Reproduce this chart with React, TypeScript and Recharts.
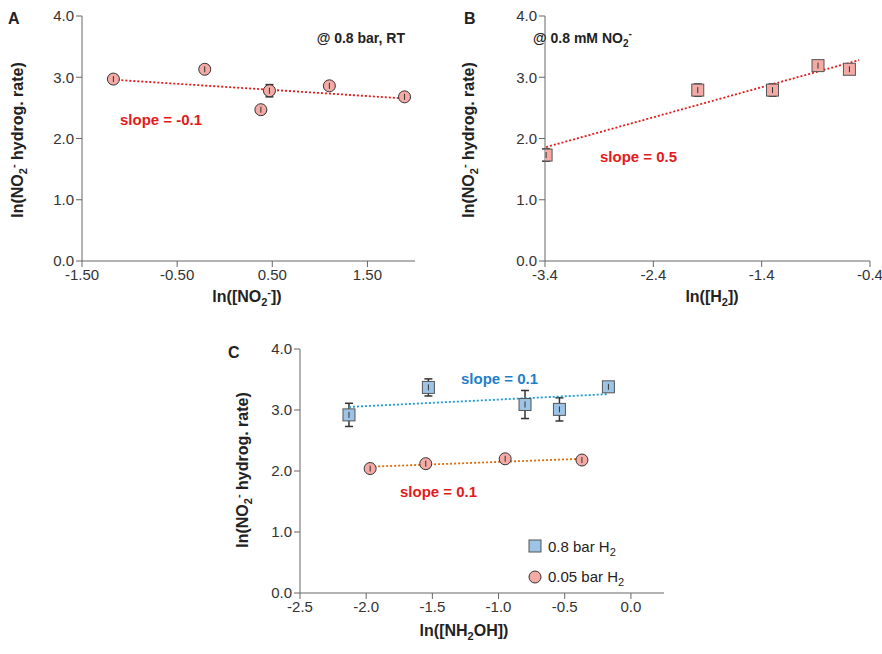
import React from "react"
import { ScatterChart, Scatter, XAxis, YAxis, ErrorBar } from "recharts"

// Panel A: ln([NO2-]) vs rate
const aPoints = [
  { x: -1.17, y: 2.97, err: 0.07 },
  { x: -0.21, y: 3.13, err: 0.05 },
  { x: 0.38, y: 2.47, err: 0.05 },
  { x: 0.47, y: 2.78, err: 0.1 },
  { x: 1.1, y: 2.86, err: 0.05 },
  { x: 1.89, y: 2.68, err: 0.04 },
]
const aTrend = [
  { x: -1.17, y: 2.96 },
  { x: 1.93, y: 2.65 },
]
const aXTicks = [-1.5, -0.5, 0.5, 1.5]

// Panel B: ln([H2]) vs rate
const bPoints = [
  { x: -3.39, y: 1.73, err: 0.1 },
  { x: -1.99, y: 2.79, err: 0.1 },
  { x: -1.3, y: 2.79, err: 0.1 },
  { x: -0.88, y: 3.19, err: 0.06 },
  { x: -0.59, y: 3.13, err: 0.05 },
]
const bTrend = [
  { x: -3.39, y: 1.86 },
  { x: -0.5, y: 3.28 },
]
const bXTicks = [-3.4, -2.4, -1.4, -0.4]

// Panel C: ln([NH2OH]) vs rate
const cHigh = [
  { x: -2.13, y: 2.92, err: 0.19 },
  { x: -1.53, y: 3.37, err: 0.14 },
  { x: -0.8, y: 3.09, err: 0.23 },
  { x: -0.54, y: 3.01, err: 0.19 },
  { x: -0.17, y: 3.38, err: 0.08 },
]
const cHighTrend = [
  { x: -2.13, y: 3.05 },
  { x: -0.17, y: 3.26 },
]
const cLow = [
  { x: -1.97, y: 2.04, err: 0.05 },
  { x: -1.55, y: 2.12, err: 0.05 },
  { x: -0.95, y: 2.2, err: 0.05 },
  { x: -0.37, y: 2.18, err: 0.05 },
]
const cLowTrend = [
  { x: -1.97, y: 2.07 },
  { x: -0.37, y: 2.2 },
]
const cXTicks = [-2.5, -2.0, -1.5, -1.0, -0.5, 0.0]
const yTicks = [0, 1, 2, 3, 4]

const FONT = "'Liberation Sans', Arial, sans-serif"
const tickStyle = { fontSize: 15, fill: "#333", fontFamily: FONT }
const axisLine = { stroke: "#666" }

const Circle = (fill: string) => (p: any) => (
  <g>
    <circle cx={p.cx} cy={p.cy} r={6} fill={fill} stroke="#333" strokeWidth={1} />
    <line x1={p.cx} x2={p.cx} y1={p.cy - 3} y2={p.cy + 3} stroke="#333" />
  </g>
)
const Square = (fill: string) => (p: any) => (
  <g>
    <rect x={p.cx - 6} y={p.cy - 6} width={12} height={12} fill={fill} stroke="#555" strokeWidth={1} />
    <line x1={p.cx} x2={p.cx} y1={p.cy - 3} y2={p.cy + 3} stroke="#333" />
  </g>
)
const NoShape = () => <g />

function axes(xDomain: number[], xTicks: number[], digits: number) {
  return [
    <XAxis
      key="x"
      type="number"
      dataKey="x"
      domain={xDomain}
      ticks={xTicks}
      tickFormatter={(v: number) => v.toFixed(digits)}
      tick={tickStyle}
      axisLine={axisLine}
      tickLine={axisLine}
      allowDataOverflow
      height={40}
    />,
    <YAxis
      key="y"
      type="number"
      dataKey="y"
      domain={[0, 4]}
      ticks={yTicks}
      tickFormatter={(v: number) => v.toFixed(1)}
      tick={tickStyle}
      axisLine={axisLine}
      tickLine={axisLine}
      width={40}
    />,
  ]
}

const trendLine = (stroke: string) => ({ stroke, strokeWidth: 1.8, strokeDasharray: "2 2" })

function YTitle({ x, y }: { x: number; y: number }) {
  return (
    <text
      transform={`translate(${x},${y}) rotate(-90)`}
      textAnchor="middle"
      fontWeight="bold"
      fontSize={16}
      fill="#222"
    >
      ln(NO<tspan fontSize={11} dy={4}>2</tspan>
      <tspan fontSize={11} dy={-10}>-</tspan>
      <tspan dy={6}> hydrog. rate)</tspan>
    </text>
  )
}

export default function App() {
  return (
    <div style={{ position: "absolute", left: 0, top: 0, width: 882, height: 654, background: "#fff", fontFamily: FONT }}>
      <div style={{ position: "absolute", left: 0, top: 0 }}>
        <ScatterChart width={430} height={320} margin={{ top: 16, right: 15, left: 42, bottom: 19 }}>
          {axes([-1.5, 2.0], aXTicks, 2)}
          <Scatter data={aTrend} line={trendLine("#e41a1a")} shape={NoShape} isAnimationActive={false} />
          <Scatter data={aPoints} shape={Circle("#f4aaa5")} isAnimationActive={false}>
            <ErrorBar dataKey="err" direction="y" width={4} stroke="#333" />
          </Scatter>
        </ScatterChart>
      </div>
      <div style={{ position: "absolute", left: 440, top: 0 }}>
        <ScatterChart width={442} height={320} margin={{ top: 16, right: 12, left: 65, bottom: 19 }}>
          {axes([-3.4, -0.4], bXTicks, 1)}
          <Scatter data={bTrend} line={trendLine("#e41a1a")} shape={NoShape} isAnimationActive={false} />
          <Scatter data={bPoints} shape={Square("#f4aaa5")} isAnimationActive={false}>
            <ErrorBar dataKey="err" direction="y" width={4} stroke="#333" />
          </Scatter>
        </ScatterChart>
      </div>
      <div style={{ position: "absolute", left: 200, top: 330 }}>
        <ScatterChart width={480} height={330} margin={{ top: 19, right: 16, left: 60, bottom: 27 }}>
          {axes([-2.5, 0.25], cXTicks, 1)}
          <Scatter data={cHighTrend} line={trendLine("#1f9bd1")} shape={NoShape} isAnimationActive={false} />
          <Scatter data={cLowTrend} line={trendLine("#e46c0a")} shape={NoShape} isAnimationActive={false} />
          <Scatter data={cHigh} shape={Square("#9dc3e6")} isAnimationActive={false}>
            <ErrorBar dataKey="err" direction="y" width={4} stroke="#333" />
          </Scatter>
          <Scatter data={cLow} shape={Circle("#f4aaa5")} isAnimationActive={false}>
            <ErrorBar dataKey="err" direction="y" width={4} stroke="#333" />
          </Scatter>
        </ScatterChart>
      </div>
      <svg width={882} height={654} style={{ position: "absolute", left: 0, top: 0, pointerEvents: "none" }} fontFamily={FONT}>
        <g fontWeight="bold" fontSize={16} fill="#222">
          <text x={8} y={24}>A</text>
          <text x={464} y={24}>B</text>
          <text x={228} y={358}>C</text>
          <text x={405} y={43} textAnchor="end" fontSize={14}>@ 0.8 bar, RT</text>
          <text x={533} y={43} fontSize={14}>
            @ 0.8 mM NO<tspan fontSize={10} dy={4}>2</tspan>
            <tspan fontSize={10} dy={-10}>-</tspan>
          </text>
          <text x={247} y={302} textAnchor="middle">
            ln([NO<tspan fontSize={11} dy={4}>2</tspan>
            <tspan fontSize={11} dy={-10}>-</tspan>
            <tspan dy={6}>])</tspan>
          </text>
          <text x={712} y={302} textAnchor="middle">
            ln([H<tspan fontSize={11} dy={4}>2</tspan>
            <tspan dy={-4}>])</tspan>
          </text>
          <text x={464} y={636} textAnchor="middle">
            ln([NH<tspan fontSize={11} dy={4}>2</tspan>
            <tspan dy={-4}>OH])</tspan>
          </text>
        </g>
        <g fontWeight="bold" fontSize={15}>
          <text x={120} y={125} fill="#e41a1a">slope = -0.1</text>
          <text x={600} y={162} fill="#e41a1a">slope = 0.5</text>
          <text x={461} y={384} fill="#1f7fc8">slope = 0.1</text>
          <text x={400} y={497} fill="#e41a1a">slope = 0.1</text>
        </g>
        <YTitle x={23} y={140} />
        <YTitle x={474} y={140} />
        <YTitle x={248} y={470} />
        <g fontSize={15} fill="#222">
          <rect x={529} y={540} width={12} height={12} fill="#9dc3e6" stroke="#555" />
          <text x={548} y={552}>
            0.8 bar H<tspan fontSize={11} dy={4}>2</tspan>
          </text>
          <circle cx={535} cy={577} r={6} fill="#f4aaa5" stroke="#333" />
          <text x={548} y={582}>
            0.05 bar H<tspan fontSize={11} dy={4}>2</tspan>
          </text>
        </g>
      </svg>
    </div>
  )
}
